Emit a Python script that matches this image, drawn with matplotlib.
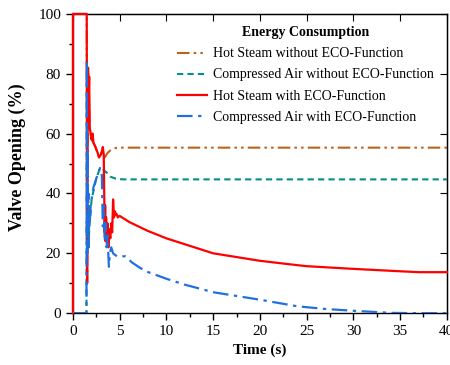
import matplotlib
matplotlib.use("Agg")
import matplotlib.pyplot as plt
from matplotlib.ticker import MultipleLocator

plt.rcParams['font.family'] = ['Liberation Serif', 'DejaVu Serif']
plt.rcParams['mathtext.fontset'] = 'stix'

# Hot Steam with ECO-Function
t_hs_eco = [0, 0, 1.48, 1.52, 1.56, 1.62, 1.68, 1.74, 1.8, 1.9, 2.0, 2.1, 2.2, 2.4, 2.6, 2.8,
            3.0, 3.1, 3.2, 3.3, 3.4, 3.45, 3.5, 3.55, 3.6, 3.7, 3.8, 3.9, 4.0, 4.1, 4.2, 4.3,
            4.4, 4.5, 4.6, 4.7, 4.8, 5.0, 5.5, 6, 7, 8, 10, 12, 15, 20, 23, 25, 30, 35, 37, 40]
y_hs_eco = [0, 100, 100, 10, 50, 82, 70, 79, 62, 60, 58, 60, 57, 55.6, 54, 52,
            53, 54, 55.5, 53, 27, 36, 24, 32, 27, 30, 22, 28, 25, 30, 27, 38, 32,
            34, 33, 33, 32, 32.5, 31.5, 30.5, 29, 27.5, 25, 23, 20, 17.5, 16.4, 15.7, 14.8, 14, 13.7, 13.7]

# Compressed Air with ECO-Function
t_ca_eco = [0, 1.45, 1.5, 1.53, 1.57, 1.62, 1.66, 1.7, 1.75, 1.8, 1.9, 2.0, 2.2, 2.5, 2.9, 3.1,
            3.2, 3.3, 3.4, 3.5, 3.6, 3.7, 3.85, 3.95, 4.1, 4.3, 4.5, 4.7, 5.0, 5.6, 6.3, 7, 7.8,
            10, 12, 15, 20, 24, 27, 30, 34, 37, 40]
y_ca_eco = [0, 0, 84.6, 20, 55, 25, 40, 22, 35, 30, 36, 38, 42, 45, 48.5, 46,
            29, 36, 24, 30, 22, 26, 15.5, 20, 22, 20, 19.5, 19, 19, 19, 17, 15.5, 14,
            11.5, 9.5, 7, 4.5, 2.3, 1.4, 0.8, 0.1, 0, 0]

# Hot Steam without ECO-Function
t_hs = [0, 0, 1.48, 1.52, 1.56, 1.62, 1.7, 1.8, 2.0, 2.4, 2.8, 3.1, 3.4, 3.7, 4.0, 4.3, 4.8, 6.0, 40]
y_hs = [0, 100, 100, 10, 50, 82, 75, 62, 58, 55.6, 52, 54, 52, 53.5, 54.4, 55.0, 55.3, 55.3, 55.3]

# Compressed Air without ECO-Function
t_ca = [0, 1.45, 1.5, 1.53, 1.6, 1.7, 1.8, 2.0, 2.5, 2.9, 3.2, 3.6, 4.0, 4.7, 5.5, 40]
y_ca = [0, 0, 80, 20, 30, 25, 30, 38, 45, 48.5, 48, 47, 45.6, 44.8, 44.7, 44.7]

fig = plt.figure(figsize=(4.5, 3.65), dpi=100)
ax = fig.add_axes([0.162, 0.142, 0.831, 0.82])

ax.plot(t_hs, y_hs, color='#C0621C', lw=1.5, ls=(0, (6, 2, 1.2, 2, 1.2, 2)),
        label='Hot Steam without ECO-Function')
ax.plot(t_ca, y_ca, color='#00908C', lw=1.5, ls=(0, (3, 2)),
        label='Compressed Air without ECO-Function')
ax.plot(t_hs_eco, y_hs_eco, color='#FF0000', lw=1.6, ls='-', clip_on=False, zorder=3,
        label='Hot Steam with ECO-Function')
ax.plot(t_ca_eco, y_ca_eco, color='#2070E0', lw=1.6, ls=(0, (7, 2.5, 1.5, 2.5)), zorder=3,
        label='Compressed Air with ECO-Function')

ax.set_xlim(0, 40)
ax.set_ylim(0, 100)
ax.xaxis.set_major_locator(MultipleLocator(5))
ax.xaxis.set_minor_locator(MultipleLocator(2.5))
ax.yaxis.set_major_locator(MultipleLocator(20))
ax.yaxis.set_minor_locator(MultipleLocator(10))
ax.tick_params(which='major', direction='out', length=5, width=1, labelsize=11)
ax.tick_params(which='minor', direction='out', length=3, width=1)

secx = ax.secondary_xaxis('top')
secx.xaxis.set_major_locator(MultipleLocator(5))
secx.tick_params(direction='in', length=5, labeltop=False)
secy = ax.secondary_yaxis('right')
secy.yaxis.set_major_locator(MultipleLocator(20))
secy.tick_params(direction='in', length=5, labelright=False)

for s in ax.spines.values():
    s.set_linewidth(1.0)

ax.set_xlabel('Time (s)', fontsize=11, fontweight='bold')
ax.set_ylabel('Valve Opening (%)', fontsize=13, fontweight='bold')
ax.yaxis.set_label_coords(-0.125, 0.52)

leg = ax.legend(title='Energy Consumption', loc='upper right', bbox_to_anchor=(1.0, 1.0),
                frameon=False, fontsize=10, handlelength=2.1, handletextpad=0.5,
                labelspacing=0.58)
leg.get_title().set_fontweight('bold')
leg.get_title().set_fontsize(10)

fig.savefig('out.png', dpi=100)
